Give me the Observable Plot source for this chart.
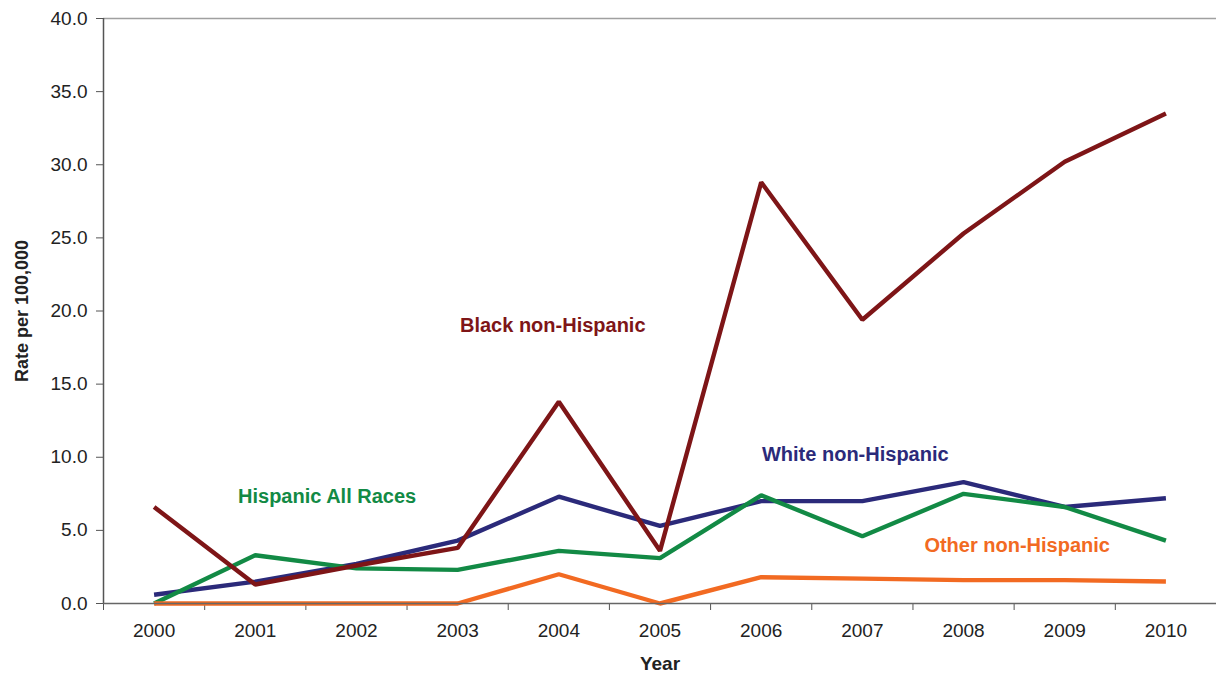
<!DOCTYPE html>
<html>
<head>
<meta charset="utf-8">
<script src="https://cdn.jsdelivr.net/npm/d3@7"></script>
<script src="https://cdn.jsdelivr.net/npm/@observablehq/plot@0.6"></script>
<style>
  html, body { margin: 0; padding: 0; background: #fff; }
  #chart svg { display: block; }
</style>
</head>
<body>
<div id="chart"></div>
<script>
const years = [2000, 2001, 2002, 2003, 2004, 2005, 2006, 2007, 2008, 2009, 2010];
const blackNH   = [6.6, 1.3, 2.6, 3.8, 13.8, 3.6, 28.8, 19.4, 25.3, 30.2, 33.5];
const whiteNH   = [0.6, 1.5, 2.7, 4.3, 7.3, 5.3, 7.0, 7.0, 8.3, 6.6, 7.2];
const hispanic  = [0.0, 3.3, 2.4, 2.3, 3.6, 3.1, 7.4, 4.6, 7.5, 6.6, 4.3];
const otherNH   = [0.0, 0.0, 0.0, 0.0, 2.0, 0.0, 1.8, 1.7, 1.6, 1.6, 1.5];
const yTicks = [0, 5, 10, 15, 20, 25, 30, 35, 40];

const seriesNames = ["White non-Hispanic", "Hispanic All Races", "Black non-Hispanic", "Other non-Hispanic"];
const seriesColors = ["#2B2A7A", "#128A45", "#7E1517", "#F26A22"];
const seriesValues = [whiteNH, hispanic, blackNH, otherNH];

// annotation label anchors (in data units)
const labelX = [2006.93, 2001.71, 2003.94, 2008.53];
const labelY = [10.2, 7.3, 19.0, 3.95];

const data = seriesNames.flatMap((s, i) => years.map((yr, j) => ({series: s, year: yr, value: seriesValues[i][j]})));
const labels = seriesNames.map((s, i) => ({series: s, x: labelX[i], y: labelY[i]}));
const boundaries = d3.range(years.length + 1).map(i => years[0] - 0.5 + i);

const chart = Plot.plot({
  width: 1216,
  height: 675,
  marginLeft: 103,
  marginRight: 0,
  marginTop: 18,
  marginBottom: 72,
  style: {fontFamily: "'Liberation Sans', Arial, sans-serif", fontSize: "19px", color: "#222", background: "#fff"},
  x: {type: "linear", domain: [years[0] - 0.5, years[years.length - 1] + 0.5]},
  y: {domain: [0, 40]},
  color: {domain: seriesNames, range: seriesColors},
  marks: [
    Plot.ruleY([40], {stroke: "#a0a0a0", strokeWidth: 1.5}),
    Plot.axisY({ticks: yTicks, tickFormat: d3.format(".1f"), tickSize: 7, tickPadding: 9, label: null, stroke: "#555", fontSize: 19, letterSpacing: 0.8, fill: "#222"}),
    Plot.axisX({ticks: boundaries, tickFormat: () => "", tickSize: 7, label: null, stroke: "#555"}),
    Plot.axisX({ticks: years, tickFormat: d => String(d), tickSize: 0, tickPadding: 20, label: null, fontSize: 19, letterSpacing: 0.9, fill: "#222"}),
    Plot.line(data, {x: "year", y: "value", z: "series", stroke: "series", strokeWidth: 4.4, strokeLinejoin: "miter", strokeLinecap: "butt"}),
    Plot.ruleX([years[0] - 0.5], {stroke: "#555", strokeWidth: 1.5}),
    Plot.ruleY([0], {stroke: "#666", strokeWidth: 1.5}),
    Plot.text(labels, {x: "x", y: "y", text: "series", fill: "series", fontWeight: "bold", fontSize: 20, letterSpacing: 1.4}),
    Plot.text(["Rate per 100,000"], {frameAnchor: "left", textAnchor: "middle", rotate: -90, dx: -81, fontWeight: "bold", fontSize: 18, letterSpacing: 0.2, fill: "#222"}),
    Plot.text(["Year"], {frameAnchor: "bottom", textAnchor: "middle", dy: 66, fontWeight: "bold", fontSize: 19, letterSpacing: 1.5, fill: "#222"})
  ]
});
document.getElementById("chart").appendChild(chart);
</script>
</body>
</html>
